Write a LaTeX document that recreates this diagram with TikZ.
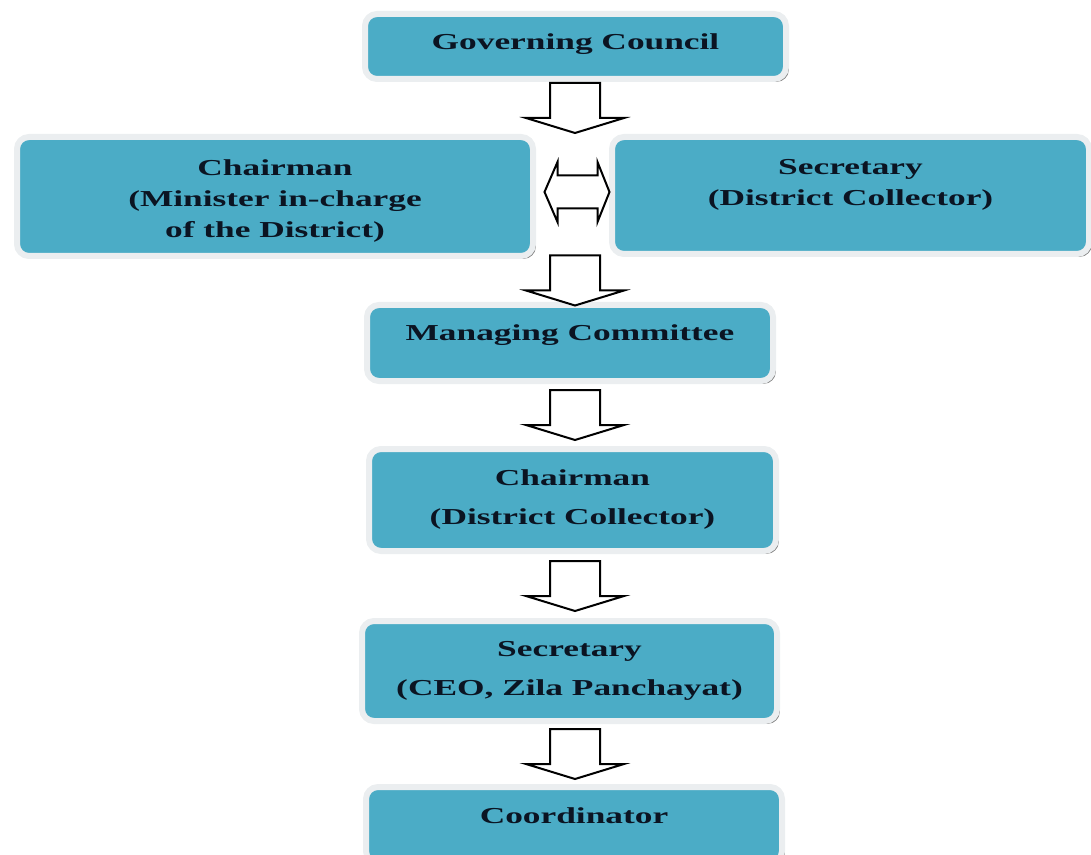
\documentclass[tikz,border=0pt]{standalone}
\usepackage{fontspec}
\setmainfont{Liberation Serif}[FakeStretch=1.55]
\usetikzlibrary{shadows,calc,positioning}
\definecolor{BOXBLUE}{HTML}{4BACC6}
\definecolor{GLOW}{HTML}{EBEEF0}
\definecolor{INK}{HTML}{0B1422}

\begin{document}
\begin{tikzpicture}[x=0.5pt,y=-0.5pt]
\tikzstyle{unitBox}=[draw=GLOW, line width=3pt, fill=BOXBLUE, rounded corners=6pt, text=INK, font=\fontsize{11.4}{15.5}\selectfont\bfseries, align=center, inner sep=0pt, drop shadow={shadow xshift=1.4pt, shadow yshift=-1.4pt, fill=black!60, opacity=0.8}]
\tikzstyle{oneLine}=[text height=8pt]
\tikzstyle{wideLines}=[font=\fontsize{11.4}{19.5}\selectfont\bfseries]
\tikzstyle{flowArrow}=[draw=black, line width=1pt, fill=white, line join=miter]

% block arrow down, centred in the gap
\newcommand{\flowDown}[2]{
\coordinate (m) at ($(#1.south)!0.5!(#2.north)$);
\begin{scope}[shift={(575,0 |- m)}]
\draw[flowArrow] (-25,-25) -- (25,-25) -- (25,10) -- (49,10) -- (0,25)
    -- (-49,10) -- (-25,10) -- cycle;
\end{scope}
}

% block arrow both ways
\newcommand{\flowBoth}[2]{
\coordinate (m) at ($(#1.east)!0.5!(#2.west)$);
\begin{scope}[shift={(577,0 |- m)}]
\draw[flowArrow] (-32.5,-4) -- (-19.5,-34) -- (-19.5,-20.5) -- (20.5,-20.5)
    -- (20.5,-34) -- (32.5,-4) -- (20.5,26) -- (20.5,12.5) -- (-19.5,12.5)
    -- (-19.5,26) -- cycle;
\end{scope}
}

\clip (0,0) rectangle (1091,855);

\node[unitBox,oneLine,text depth=4.5pt,minimum width=210.5pt,minimum height=32.5pt] (council) at (575.5,46.5) {Governing Council};
\node[unitBox,text height=43.5pt,minimum width=258pt,minimum height=59.5pt] (chairL) at (275,196.5) {Chairman\\(Minister in-charge\\of the District)};
\node[unitBox,text depth=13pt,minimum width=238.5pt,minimum height=58.5pt] (secR) at (850.5,195.5) {Secretary\\(District Collector)};
\node[unitBox,oneLine,text depth=10pt,minimum width=203pt,minimum height=38pt] (mgmt) at (570,343) {Managing Committee};
\node[unitBox,wideLines,minimum width=203.5pt,minimum height=51pt] (chairD) at (572.5,500) {Chairman\\(District Collector)};
\node[unitBox,wideLines,minimum width=207.5pt,minimum height=50pt] (secC) at (569.5,671) {Secretary\\(CEO, Zila Panchayat)};
\node[unitBox,oneLine,text depth=10pt,minimum width=208pt,minimum height=38pt] (coord) at (574,825) {Coordinator};

\flowDown{council}{chairL}
\flowBoth{chairL}{secR}
\flowDown{chairL}{mgmt}
\flowDown{mgmt}{chairD}
\flowDown{chairD}{secC}
\flowDown{secC}{coord}
\end{tikzpicture}
\end{document}
